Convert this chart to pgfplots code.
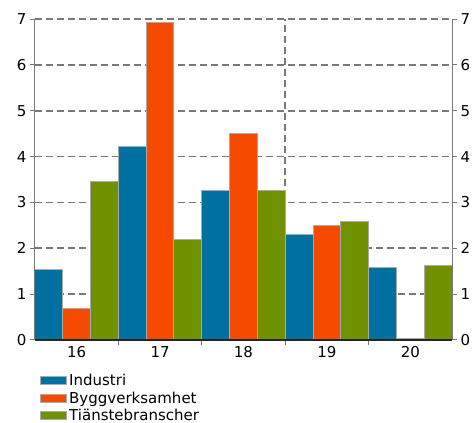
\documentclass[border=0pt]{standalone}
\usepackage{pgfplots}
\pgfplotsset{compat=1.18}
\usepackage{fontspec}
\setmainfont{DejaVu Sans}
\definecolor{cblue}{RGB}{0,112,160}
\definecolor{corange}{RGB}{245,75,0}
\definecolor{cgreen}{RGB}{112,146,0}
\definecolor{cgrid}{RGB}{120,120,120}
\definecolor{cedge}{RGB}{170,170,170}
\begin{document}
\begin{tikzpicture}[x=1pt,y=1pt]
\useasboundingbox (0,0) rectangle (475,423);
\begin{axis}[
  scale only axis, width=417pt, height=321pt,
  at={(35pt,83pt)}, anchor=south west,
  xmin=-0.5, xmax=14.5, ymin=0, ymax=7,
  ytick={0,...,7},
  xtick={2.5,5.5,8.5,11.5}, xticklabels={},
  extra x ticks={1,4,7,10,13},
  extra x tick labels={16,17,18,19,20},
  extra x tick style={major tick length=0pt, grid=none},
  xtick pos=bottom, ytick pos=left,
  tick align=outside, major tick length=5pt,
  tick style={cgrid, line width=1pt},
  axis line style={draw=none},
  every outer x axis line/.style={draw=none},
  every outer y axis line/.style={draw=none},
  ymajorgrids,
  grid style={cgrid, line width=1.6pt, dash pattern=on 7pt off 4pt},
  ticklabel style={font=\fontsize{15}{18}\selectfont},
  xticklabel style={yshift=-3pt},
  /pgf/number format/assume math mode=true,
  ybar, bar width=1, bar shift=0pt,
  every axis plot/.append style={draw=cedge, line width=1pt},
  legend style={at={(0.012,-0.1)}, anchor=north west, draw=none, fill=none,
    font=\fontsize{15}{17}\selectfont, inner sep=0pt, row sep=0.5pt,
    cells={anchor=west}},
  legend image code/.code={\draw[#1, draw=cedge, line width=1pt] (0pt,-4pt) rectangle (26pt,4pt);},
  legend cell align=left,
  clip=false,
]
\draw[cgrid, line width=1.6pt, dash pattern=on 7pt off 4pt] (axis cs:8.5,0) -- (axis cs:8.5,7);
\addplot[fill=cblue] coordinates {(0,1.53) (3,4.23) (6,3.25) (9,2.29) (12,1.59)};
\addplot[fill=corange] coordinates {(1,0.68) (4,6.93) (7,4.51) (10,2.49) (13,0.04)};
\addplot[fill=cgreen] coordinates {(2,3.45) (5,2.20) (8,3.26) (11,2.58) (14,1.63)};
\legend{Industri,Byggverksamhet,Tiänstebranscher}
\draw[cgrid, line width=1pt] (rel axis cs:0,0) -- (rel axis cs:0,1);
\draw[cgrid, line width=1pt] (rel axis cs:1,0) -- (rel axis cs:1,1);
\draw[black!85, line width=1.2pt] (rel axis cs:0,0) -- (rel axis cs:1,0);
\end{axis}
\begin{axis}[
  scale only axis, width=417pt, height=321pt,
  at={(35pt,83pt)}, anchor=south west,
  xmin=-0.5, xmax=14.5, ymin=0, ymax=7,
  ytick={0,...,7}, xtick=\empty, hide x axis,
  ytick pos=right, yticklabel pos=right,
  tick align=outside, major tick length=5pt,
  tick style={cgrid, line width=1pt},
  axis line style={draw=none},
  every outer y axis line/.style={draw=none},
  ticklabel style={font=\fontsize{15}{18}\selectfont},
  /pgf/number format/assume math mode=true,
]
\addplot[draw=none] coordinates {(0,0)};
\end{axis}
\end{tikzpicture}
\end{document}
